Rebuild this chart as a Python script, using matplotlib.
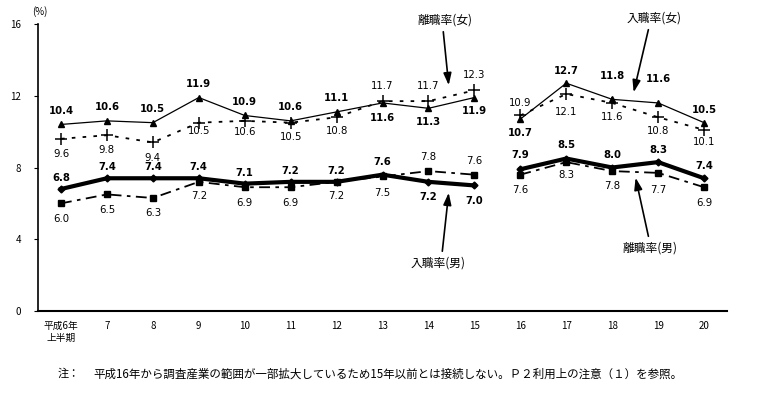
import matplotlib
matplotlib.use("Agg")
import matplotlib.pyplot as plt

plt.rcParams["font.family"] = ["Noto Sans CJK JP", "DejaVu Sans"]

years = ["平成6年\n上半期", "7", "8", "9", "10", "11", "12", "13", "14", "15",
         "16", "17", "18", "19", "20"]

hire_f = [10.4, 10.6, 10.5, 11.9, 10.9, 10.6, 11.1, 11.6, 11.3, 11.9,
          10.7, 12.7, 11.8, 11.6, 10.5]
sep_f = [9.6, 9.8, 9.4, 10.5, 10.6, 10.5, 10.8, 11.7, 11.7, 12.3,
         10.9, 12.1, 11.6, 10.8, 10.1]
hire_m = [6.8, 7.4, 7.4, 7.4, 7.1, 7.2, 7.2, 7.6, 7.2, 7.0,
          7.9, 8.5, 8.0, 8.3, 7.4]
sep_m = [6.0, 6.5, 6.3, 7.2, 6.9, 6.9, 7.2, 7.5, 7.8, 7.6,
         7.6, 8.3, 7.8, 7.7, 6.9]

# label offsets in points (positive = above the point)
off_hire_f = [10, 10, 10, 10, 10, 10, 10, -11, -10, -10, -10, 9, 17, 17, 9]
off_sep_f = [-11, -11, -11, -6, -8, -10, -10, 11, 11, 11, 9, -13, -10, -10, -9]
off_hire_m = [8, 8, 8, 8, 8, 8, 8, 9, -11, -11, 10, 10, 9, 9, 9]
off_sep_m = [-11, -11, -11, -10, -11, -11, -10, -12, 10, 10, -11, -9, -11, -12, -11]

x = [i + 0.5 for i in range(len(years))]
split = 10

fig = plt.figure(figsize=(7.81, 3.99), dpi=100)
ax = fig.add_axes([0.0487, 0.2206, 0.8822, 0.7192])

styles = [
    (hire_f, off_hire_f, dict(color="black", lw=0.9, ls="-", marker="^", ms=4), True),
    (sep_f, off_sep_f, dict(color="black", lw=1.3, ls=(0, (2, 4)), marker="+", ms=8, mew=1.1), False),
    (hire_m, off_hire_m, dict(color="black", lw=3.0, ls="-", marker="D", ms=3.5), True),
    (sep_m, off_sep_m, dict(color="black", lw=1.3, ls=(0, (6, 3, 2, 3)), marker="s", ms=4), False),
]

for vals, offs, st, bold in styles:
    ax.plot(x[:split], vals[:split], **st)
    ax.plot(x[split:], vals[split:], **st)
    for xi, v, o in zip(x, vals, offs):
        ax.annotate(f"{v:.1f}", (xi, v), xytext=(0, o),
                    textcoords="offset points", ha="center", va="center",
                    fontsize=7.3, fontweight="bold" if bold else "normal",
                    family=["DejaVu Sans"])

ax.set_xlim(0, 15)
ax.set_ylim(0, 16)
ax.set_yticks([0, 4, 8, 12, 16])
ax.set_xticks(x)
ax.set_xticklabels(years, fontsize=7, linespacing=1.3)
ax.tick_params(axis="x", length=0, pad=7)
ax.tick_params(axis="y", length=3, direction="out", labelsize=7, pad=9)
for side in ("top", "right"):
    ax.spines[side].set_visible(False)
ax.spines["left"].set_linewidth(1.2)
ax.spines["bottom"].set_linewidth(1.5)

fig.text(40 / 781, 1 - 12 / 399, "(%)", fontsize=7, ha="center", va="center")

arrow = dict(arrowstyle="-|>,head_length=0.6,head_width=0.2", color="black", lw=1.2,
             mutation_scale=12)


def px(xp, yp):
    return (xp / 781, 1 - yp / 399)


for label, text_xy, tail, head in [
    ("離職率(女)", (445, 20), (443, 29), (449, 88)),
    ("入職率(女)", (654, 18), (649, 27), (633, 95)),
    ("入職率(男)", (438, 263), (442, 254), (449, 190)),
    ("離職率(男)", (650, 248), (649, 239), (635, 175)),
]:
    fig.text(*px(*text_xy), label, fontsize=8.5, ha="center", va="center")
    ax.annotate("", xy=px(*head), xytext=px(*tail), xycoords="figure fraction",
                textcoords="figure fraction", arrowprops=arrow)

fig.text(58 / 781, 1 - 374 / 399, "注：", fontsize=8, va="center")
fig.text(93 / 781, 1 - 374 / 399,
         "平成16年から調査産業の範囲が一部拡大しているため15年以前とは接続しない。Ｐ２利用上の注意（１）を参照。",
         fontsize=8.3, va="center")

fig.savefig("out.png", dpi=100)
